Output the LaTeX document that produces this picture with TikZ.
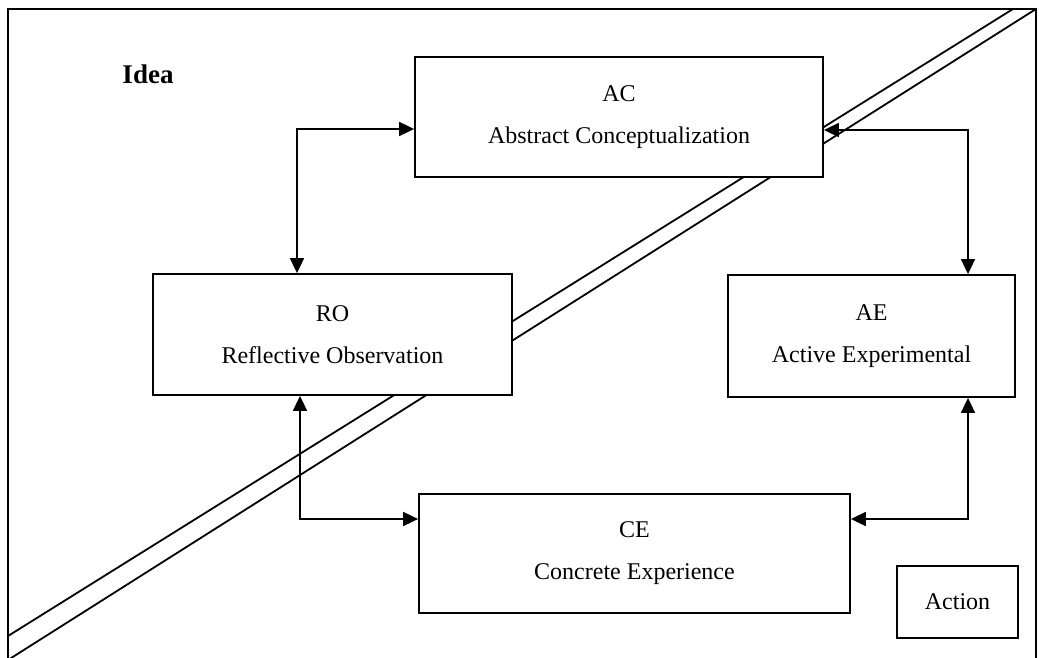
\documentclass[tikz,border=0pt]{standalone}
\usepackage{fontspec}
\setmainfont{Liberation Serif}
\usetikzlibrary{arrows.meta}
\begin{document}
\begin{tikzpicture}[x=1pt,y=-1pt,
  line width=1.8pt,
  box/.style={draw, fill=white, inner sep=0pt, align=center,
    font=\fontsize{24}{42}\selectfont},
  arr/.style={{Triangle[length=15pt,width=14pt]}-{Triangle[length=15pt,width=14pt]}}]
\clip (0,0) rectangle (1039,658);
\fill[white] (0,0) rectangle (1039,658);
% frame
\draw (8,670) -- (8,9) -- (1036,9) -- (1036,670);
% double diagonal
\draw (8,636) -- (1013,9);
\draw (8,660) -- (1036,9);
% idea label
\node[font=\fontsize{27}{30}\selectfont\bfseries] (idea) at (148,74) {Idea};
% boxes
\node[box, minimum width=408pt, minimum height=120pt] (AC) at (619,117)
  {AC\\Abstract Conceptualization};
\node[box, minimum width=359pt, minimum height=121pt] (RO) at (332.5,334.5)
  {RO\\Reflective Observation};
\node[box, minimum width=287pt, minimum height=122pt] (AE) at (871.5,336)
  {AE\\Active Experimental};
\node[box, minimum width=431pt, minimum height=119pt] (CE) at (634.5,553.5)
  {CE\\Concrete Experience};
\node[box, minimum width=121pt, minimum height=72pt] (action) at (957.5,602)
  {Action};
% connector bends
\coordinate (c1) at (297,129);
\coordinate (c2) at (968,130);
\coordinate (c3) at (300,519);
\coordinate (c4) at (968,519);
\draw[arr] (RO.north -| c1) |- (AC.west |- c1);
\draw[arr] (AE.north -| c2) |- (AC.east |- c2);
\draw[arr] (RO.south -| c3) |- (CE.west |- c3);
\draw[arr] (AE.south -| c4) |- (CE.east |- c4);
\end{tikzpicture}
\end{document}
